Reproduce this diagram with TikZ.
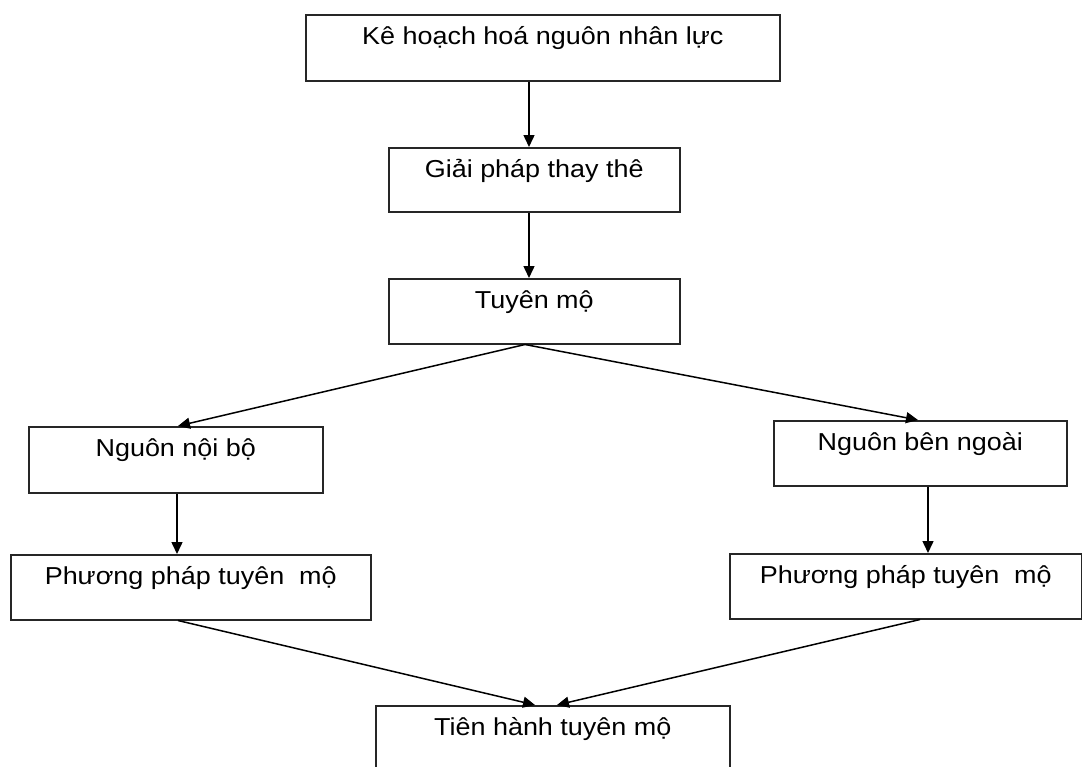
\documentclass[tikz,border=0pt]{standalone}
\usepackage{fontspec}
\setmainfont{Liberation Sans}[FakeStretch=1.1]
\usetikzlibrary{arrows.meta}
\tikzset{
  box/.style={draw=black!85, line width=1.5pt, fill=white, inner sep=0pt,
    anchor=north west, text height=30pt, text=black,
    font=\fontsize{24.5}{28}\selectfont},
  arr/.style={draw=black, line width=1.5pt, -{Triangle[length=12pt,width=11pt]}},
}
\begin{document}
\begin{tikzpicture}[x=1pt,y=-1pt]
\useasboundingbox (0,0) rectangle (1082,766);
\clip (0,0) rectangle (1082,766);
\fill[white] (0,0) rectangle (1082,766);

\node[box, minimum width=474pt, text depth=36pt] (n1) at (305,14) {Kê hoạch hoá nguôn nhân lực};
\node[box, minimum width=291pt, text depth=34pt] (n2) at (388,147) {Giải pháp thay thê};
\node[box, minimum width=291pt, text depth=35pt] (n3) at (388,278) {Tuyên mộ};
\node[box, minimum width=294pt, text depth=36pt] (n4) at (28,426) {Nguôn nội bộ};
\node[box, minimum width=360pt, text depth=35pt] (n5) at (10,554) {Phương pháp tuyên\ \ mộ};
\node[box, minimum width=293pt, text depth=35pt] (n6) at (773,420) {Nguôn bên ngoài};
\node[box, minimum width=352pt, text depth=35pt] (n7) at (729,553) {Phương pháp tuyên\ \ mộ};
\node[box, minimum width=354pt, text depth=100pt] (n8) at (375,705) {Tiên hành tuyên mộ};

\coordinate (c1) at (529,0);
\coordinate (t3) at (525,0);
\coordinate (t4) at (178,0);
\coordinate (t6) at (918,0);
\coordinate (v4) at (177,0);
\coordinate (v6) at (928,0);
\coordinate (b5) at (178,0);
\coordinate (b7) at (920,0);
\coordinate (t8a) at (535,0);
\coordinate (t8b) at (557,0);

\draw[arr] (n1.south -| c1) -- (n2.north -| c1);
\draw[arr] (n2.south -| c1) -- (n3.north -| c1);
\draw[arr] (n3.south -| t3) -- (n4.north -| t4);
\draw[arr] (n3.south -| t3) -- (n6.north -| t6);
\draw[arr] (n4.south -| v4) -- (n5.north -| v4);
\draw[arr] (n6.south -| v6) -- (n7.north -| v6);
\draw[arr] (n5.south -| b5) -- (n8.north -| t8a);
\draw[arr] (n7.south -| b7) -- (n8.north -| t8b);
\end{tikzpicture}
\end{document}
